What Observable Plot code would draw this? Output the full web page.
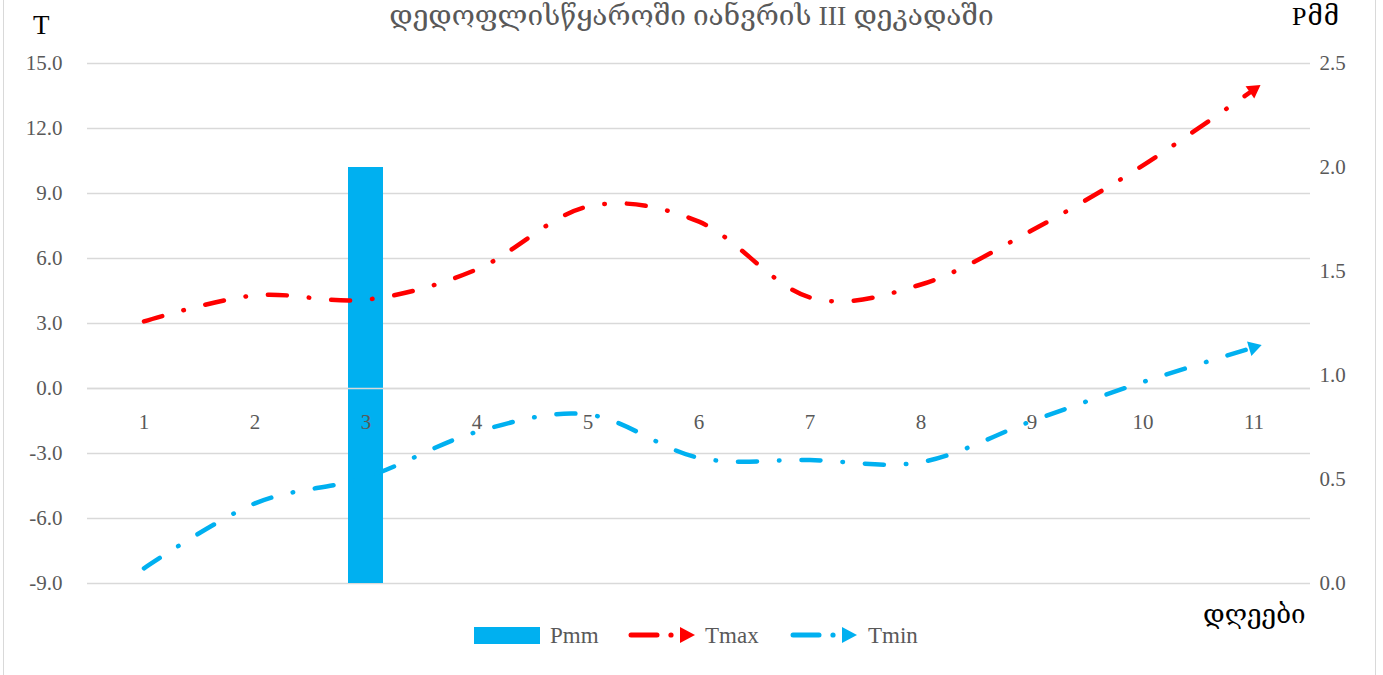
<!DOCTYPE html>
<html>
<head>
<meta charset="utf-8">
<script src="https://cdn.jsdelivr.net/npm/d3@7"></script>
<script src="https://cdn.jsdelivr.net/npm/@observablehq/plot@0.6"></script>
<style>
  body { margin: 0; background: #fff; }
  #wrap { position: relative; width: 1383px; height: 675px; overflow: hidden; background: #fff;
          font-family: "Liberation Serif", "DejaVu Serif", serif; }
  #frame { position: absolute; left: 3px; top: -3px; width: 1373px; height: 700px; border: 1.5px solid #d9d9d9; box-sizing: border-box; pointer-events: none; }
  #chart { position: absolute; left: 0; top: 0; }
  .abs { position: absolute; white-space: nowrap; line-height: 1; }
  #title { left: 0; width: 1383px; text-align: center; top: 2px; font-size: 28px; color: #595959; }
  #tlab { left: 33px; top: 12px; font-size: 27px; color: #000; }
  #plab { left: 1292px; top: 4px; font-size: 26px; color: #000; letter-spacing: 1px; }
  #xlab { left: 1203px; top: 602px; font-size: 26px; color: #000; }
  .leg { font-size: 23px; color: #595959; top: 624px; }
</style>
</head>
<body>
<div id="wrap">
  <div id="chart"></div>
  <div id="title" class="abs"></div>
  <div id="tlab" class="abs">T</div>
  <div id="plab" class="abs">Pმმ</div>
  <div id="xlab" class="abs">დღეები</div>
  <div id="legend"></div>
  <div id="frame"></div>
</div>
<script>
// ---- data ----
const titleText = "დედოფლისწყაროში იანვრის III დეკადაში";
const days = [1, 2, 3, 4, 5, 6, 7, 8, 9, 10, 11];
const tmax = [3.1, 4.3, 4.1, 5.5, 8.4, 7.7, 4.2, 4.8, 7.3, 10.3, 13.8];
const tmin = [-8.3, -5.3, -4.1, -2.0, -1.2, -3.2, -3.3, -3.4, -1.5, 0.3, 1.9];
const pmm  = [0, 0, 2.0, 0, 0, 0, 0, 0, 0, 0, 0];
const tTicks = [-9, -6, -3, 0, 3, 6, 9, 12, 15];
const pTicks = [0, 0.5, 1.0, 1.5, 2.0, 2.5];
const seriesNames = ["Pmm", "Tmax", "Tmin"];

document.getElementById("title").textContent = titleText;

const RED = "#ff0000", BLUE = "#00b0f0", GRAY = "#595959", GRID = "#d9d9d9";
// right axis (P) mapped onto left axis (T) domain
const pToT = d3.scaleLinear().domain([0, 2.5]).range([-9, 15]);

const rows = days.map((d, i) => ({day: d, tmax: tmax[i], tmin: tmin[i], p: pmm[i]}));

function arrowMarker(color, context) {
  const doc = (context && context.document) || document;
  const ns = "http://www.w3.org/2000/svg";
  const m = doc.createElementNS(ns, "marker");
  m.setAttribute("viewBox", "-9 -9 18 18");
  m.setAttribute("markerWidth", "18");
  m.setAttribute("markerHeight", "18");
  m.setAttribute("markerUnits", "userSpaceOnUse");
  m.setAttribute("orient", "auto");
  m.setAttribute("fill", color);
  m.setAttribute("stroke", "none");
  m.setAttribute("stroke-dasharray", "none");
  const p = doc.createElementNS(ns, "path");
  p.setAttribute("d", "M-5,-7.5L8,0L-5,7.5Z");
  m.appendChild(p);
  return m;
}

const dash = "19,22,0.5,22";

const plot = Plot.plot({
  width: 1383,
  height: 675,
  marginTop: 63,
  marginBottom: 92,
  marginLeft: 87,
  marginRight: 73,
  style: {fontFamily: "'Liberation Serif', 'DejaVu Serif', serif", fontSize: "21px", background: "transparent"},
  x: {type: "band", domain: days, paddingInner: 0.685, paddingOuter: 0.3425, axis: null},
  y: {domain: [-9, 15], axis: null},
  marks: [
    Plot.ruleY(tTicks, {stroke: GRID, strokeWidth: 1.5}),
    Plot.barY(rows, {x: "day", y1: -9, y2: d => pToT(d.p), fill: BLUE}),
    Plot.ruleY([0], {stroke: GRID, strokeWidth: 1.5}),
    Plot.axisY(tTicks, {anchor: "left", tickSize: 0, tickPadding: 25, tickFormat: d => d.toFixed(1), label: null, color: GRAY}),
    Plot.axisY(pTicks.map(pToT), {anchor: "right", tickSize: 0, tickPadding: 9, tickFormat: d => pToT.invert(d).toFixed(1), label: null, color: GRAY}),
    Plot.text(days, {x: d => d, y: 0, dy: 34, text: d => String(d), fill: GRAY, fontSize: 21}),
    Plot.line(rows, {x: "day", y: "tmax", stroke: RED, strokeWidth: 4.5, strokeDasharray: dash, strokeLinecap: "round", curve: "cardinal", markerEnd: arrowMarker}),
    Plot.line(rows, {x: "day", y: "tmin", stroke: BLUE, strokeWidth: 4.5, strokeDasharray: dash, strokeLinecap: "round", curve: "cardinal", markerEnd: arrowMarker})
  ]
});
document.getElementById("chart").appendChild(plot);

// ---- legend ----
const legend = document.getElementById("legend");
function addAbs(html, left, cls) {
  const el = document.createElement("div");
  el.className = "abs " + (cls || "");
  el.style.left = left + "px";
  el.innerHTML = html;
  legend.appendChild(el);
  return el;
}
const sw = addAbs(`<div style="width:66px;height:17px;background:${BLUE}"></div>`, 474, "");
sw.style.top = "627px";
addAbs(seriesNames[0], 550, "leg");
function lineSwatch(color) {
  return `<svg width="72" height="22" style="display:block">
    <line x1="3" y1="11" x2="29" y2="11" stroke="${color}" stroke-width="5" stroke-linecap="round"/>
    <circle cx="43" cy="11" r="2.6" fill="${color}"/>
    <path d="M52,3L67,11L52,19Z" fill="${color}"/></svg>`;
}
const s1 = addAbs(lineSwatch(RED), 628, ""); s1.style.top = "624px";
addAbs(seriesNames[1], 705, "leg");
const s2 = addAbs(lineSwatch(BLUE), 790, ""); s2.style.top = "624px";
addAbs(seriesNames[2], 868, "leg");
</script>
</body>
</html>
